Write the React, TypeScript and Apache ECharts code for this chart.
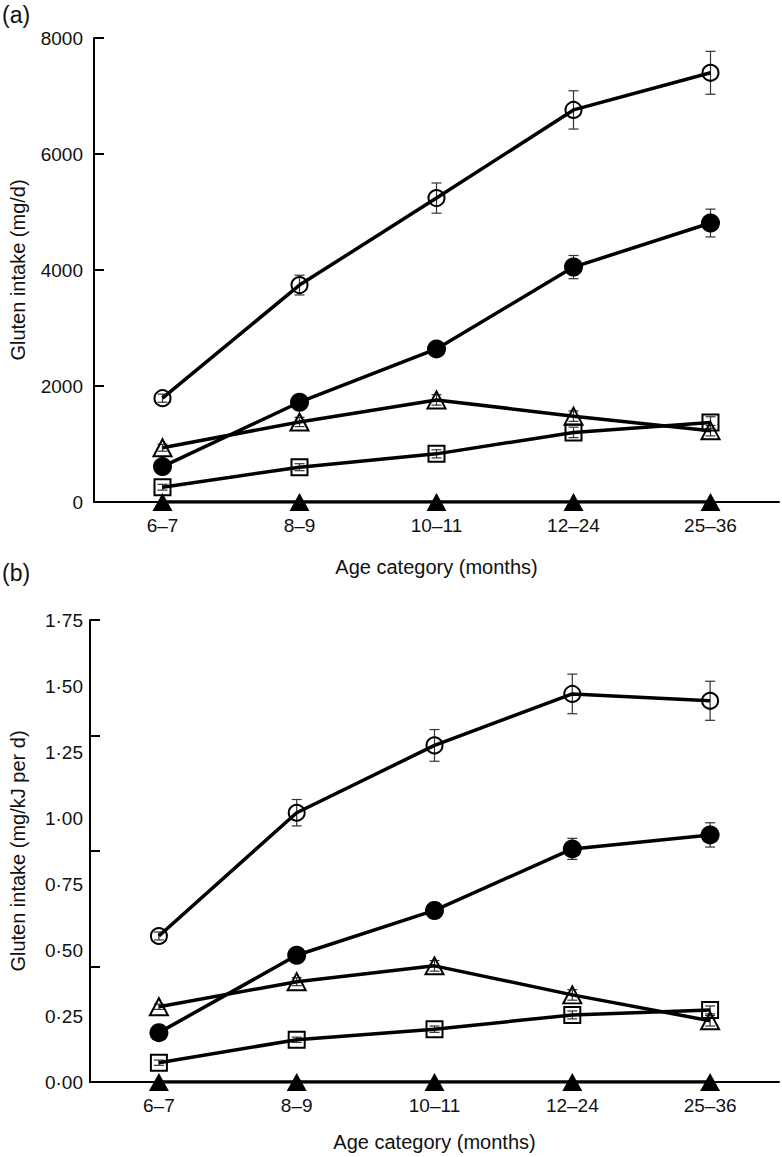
import React, { useEffect, useRef } from "react";
import * as echarts from "echarts";

// ---- Data ----
const categories = ["6–7", "8–9", "10–11", "12–24", "25–36"];

// Panel (a): gluten intake (mg/d)
const openCircleA = [1790, 3740, 5240, 6760, 7400];
const openCircleAErr = [70, 170, 260, 330, 370];
const filledCircleA = [610, 1720, 2640, 4050, 4810];
const filledCircleAErr = [50, 90, 100, 200, 240];
const openTriangleA = [936, 1380, 1760, 1480, 1230];
const openTriangleAErr = [60, 80, 90, 90, 90];
const openSquareA = [255, 600, 830, 1200, 1370];
const openSquareAErr = [50, 60, 70, 90, 100];
const filledTriangleA = [0, 0, 0, 0, 0];

// Panel (b): gluten intake (mg/kJ per d)
const openCircleB = [0.553, 1.02, 1.275, 1.47, 1.444];
const openCircleBErr = [0.015, 0.05, 0.06, 0.075, 0.074];
const filledCircleB = [0.187, 0.48, 0.65, 0.883, 0.936];
const filledCircleBErr = [0.01, 0.02, 0.03, 0.04, 0.046];
const openTriangleB = [0.285, 0.38, 0.44, 0.33, 0.232];
const openTriangleBErr = [0.01, 0.015, 0.02, 0.02, 0.02];
const openSquareB = [0.073, 0.16, 0.2, 0.254, 0.273];
const openSquareBErr = [0.01, 0.01, 0.012, 0.015, 0.015];
const filledTriangleB = [0, 0, 0, 0, 0];

const FONT = "'Liberation Sans', Arial, Helvetica, sans-serif";

function errData(vals: number[], errs: number[]) {
  return vals.map((v, i) => [i, v - errs[i], v + errs[i]]);
}

const renderErr = (_params: any, api: any) => {
  const lo = api.coord([api.value(0), api.value(1)]);
  const hi = api.coord([api.value(0), api.value(2)]);
  const w = 5;
  const st = { stroke: "#333", lineWidth: 1.2 };
  return {
    type: "group",
    children: [
      { type: "line", shape: { x1: lo[0], y1: lo[1], x2: hi[0], y2: hi[1] }, style: st },
      { type: "line", shape: { x1: lo[0] - w, y1: lo[1], x2: lo[0] + w, y2: lo[1] }, style: st },
      { type: "line", shape: { x1: hi[0] - w, y1: hi[1], x2: hi[0] + w, y2: hi[1] }, style: st },
    ],
  };
};

type Kind = "openCircle" | "filledCircle" | "openTriangle" | "openSquare" | "filledTriangle";

function markerStyle(kind: Kind) {
  switch (kind) {
    case "openCircle":
      return { symbol: "circle", symbolSize: 16, itemStyle: { color: "rgba(0,0,0,0)", borderColor: "#000", borderWidth: 2 } };
    case "filledCircle":
      return { symbol: "circle", symbolSize: 19, itemStyle: { color: "#000", borderWidth: 0 } };
    case "openTriangle":
      return { symbol: "triangle", symbolSize: [18, 17], itemStyle: { color: "rgba(0,0,0,0)", borderColor: "#000", borderWidth: 2 } };
    case "openSquare":
      return { symbol: "rect", symbolSize: 16, itemStyle: { color: "rgba(0,0,0,0)", borderColor: "#000", borderWidth: 2 } };
    case "filledTriangle":
      return { symbol: "triangle", symbolSize: [20, 18], itemStyle: { color: "#000", borderWidth: 0 } };
  }
}

function lineSeries(kind: Kind, data: number[], xi: number, yi: number) {
  return {
    type: "line",
    xAxisIndex: xi,
    yAxisIndex: yi,
    data,
    ...markerStyle(kind),
    showSymbol: true,
    lineStyle: { color: "#000", width: 3.5 },
    z: 3,
    silent: true,
  };
}

function errSeries(vals: number[], errs: number[], xi: number, yi: number) {
  return {
    type: "custom",
    xAxisIndex: xi,
    yAxisIndex: yi,
    data: errData(vals, errs),
    encode: { x: 0, y: [1, 2] },
    renderItem: renderErr,
    z: 2,
    silent: true,
  };
}

export default function App() {
  const ref = useRef<HTMLDivElement>(null);

  useEffect(() => {
    if (!ref.current) return;
    const chart = echarts.init(ref.current, undefined, { renderer: "svg" });

    const axisLine = { show: true, lineStyle: { color: "#000", width: 2 } };
    const labelStyle = { color: "#111", fontSize: 19, fontFamily: FONT };
    const nameStyle = { color: "#111", fontSize: 20, fontFamily: FONT };

    const option: any = {
      animation: false,
      backgroundColor: "#fff",
      textStyle: { fontFamily: FONT },
      grid: [
        { left: 89, top: 38, width: 690, height: 464 },
        { left: 86, top: 620, width: 693, height: 462 },
      ],
      xAxis: [
        {
          type: "category",
          gridIndex: 0,
          data: categories,
          boundaryGap: true,
          axisLine,
          axisTick: { show: false },
          axisLabel: { ...labelStyle, margin: 14 },
          name: "Age category (months)",
          nameLocation: "middle",
          nameGap: 55,
          nameTextStyle: nameStyle,
        },
        {
          type: "category",
          gridIndex: 1,
          data: categories,
          boundaryGap: true,
          axisLine,
          axisTick: { show: false },
          axisLabel: { ...labelStyle, margin: 14 },
          name: "Age category (months)",
          nameLocation: "middle",
          nameGap: 50,
          nameTextStyle: nameStyle,
        },
      ],
      yAxis: [
        {
          type: "value",
          gridIndex: 0,
          position: "left",
          min: 0,
          max: 8000,
          interval: 2000,
          axisLine,
          axisTick: { show: true, inside: true, length: 10, lineStyle: { color: "#000", width: 2 } },
          axisLabel: { ...labelStyle, margin: 11, formatter: (v: number) => String(v) },
          splitLine: { show: false },
          name: "Gluten intake (mg/d)",
          nameLocation: "middle",
          nameGap: 66,
          nameTextStyle: nameStyle,
        },
        {
          type: "value",
          gridIndex: 1,
          position: "left",
          min: 0,
          max: 1.75,
          interval: 0.25,
          axisLine,
          axisTick: { show: false },
          axisLabel: {
            ...labelStyle,
            margin: 7,
            formatter: (v: number) => v.toFixed(2).replace(".", "·"),
          },
          splitLine: { show: false },
          name: "Gluten intake (mg/kJ per d)",
          nameLocation: "middle",
          nameGap: 62,
          nameTextStyle: nameStyle,
        },
        {
          type: "value",
          gridIndex: 1,
          position: "left",
          min: 0,
          max: 1.75,
          interval: 0.4375,
          axisLine: { show: false },
          axisTick: { show: true, inside: true, length: 10, lineStyle: { color: "#000", width: 2 } },
          axisLabel: { show: false },
          splitLine: { show: false },
        },
      ],
      graphic: [
        { type: "text", left: 2, top: 3, style: { text: "(a)", fontSize: 23, fontFamily: FONT, fill: "#111" } },
        { type: "text", left: 2, top: 561, style: { text: "(b)", fontSize: 23, fontFamily: FONT, fill: "#111" } },
      ],
      series: [
        errSeries(openCircleA, openCircleAErr, 0, 0),
        errSeries(filledCircleA, filledCircleAErr, 0, 0),
        errSeries(openTriangleA, openTriangleAErr, 0, 0),
        errSeries(openSquareA, openSquareAErr, 0, 0),
        lineSeries("openCircle", openCircleA, 0, 0),
        lineSeries("filledCircle", filledCircleA, 0, 0),
        lineSeries("openTriangle", openTriangleA, 0, 0),
        lineSeries("openSquare", openSquareA, 0, 0),
        lineSeries("filledTriangle", filledTriangleA, 0, 0),

        errSeries(openCircleB, openCircleBErr, 1, 1),
        errSeries(filledCircleB, filledCircleBErr, 1, 1),
        errSeries(openTriangleB, openTriangleBErr, 1, 1),
        errSeries(openSquareB, openSquareBErr, 1, 1),
        lineSeries("openCircle", openCircleB, 1, 1),
        lineSeries("filledCircle", filledCircleB, 1, 1),
        lineSeries("openTriangle", openTriangleB, 1, 1),
        lineSeries("openSquare", openSquareB, 1, 1),
        lineSeries("filledTriangle", filledTriangleB, 1, 1),
      ],
    };

    chart.setOption(option);
    return () => chart.dispose();
  }, []);

  return (
    <div
      ref={ref}
      style={{ position: "absolute", left: 0, top: 0, width: 782, height: 1157, background: "#fff" }}
    />
  );
}
